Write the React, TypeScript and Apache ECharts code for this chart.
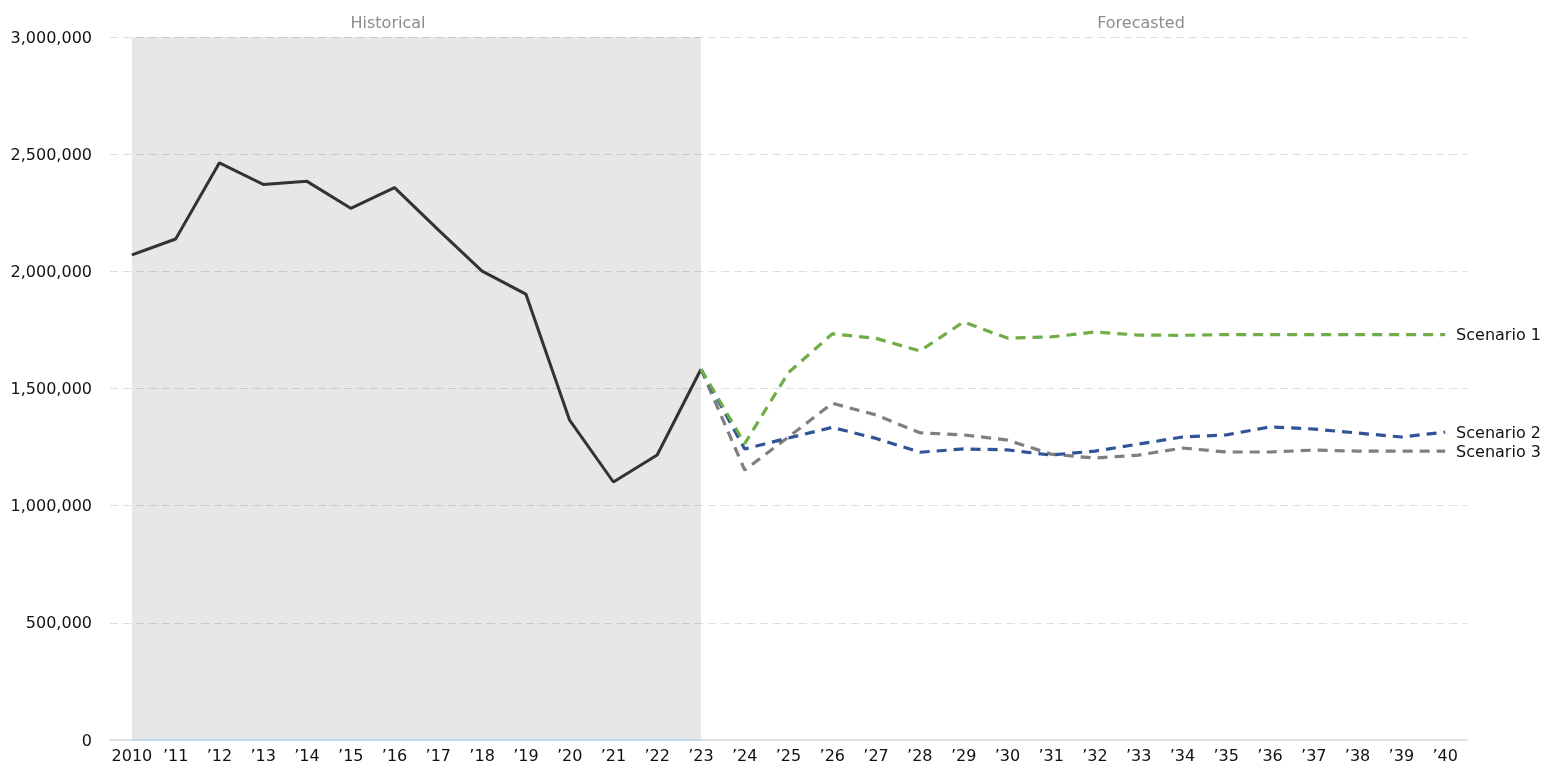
import React, { useEffect, useRef } from "react";
import * as echarts from "echarts";

const years = Array.from({ length: 31 }, (_, i) => String(2010 + i));

const historical = [
  2070000, 2138000, 2463000, 2371000, 2384000, 2269000, 2357000, 2177000, 2001000,
  1903000, 1365000, 1101000, 1216000, 1582000,
];
const scenario1 = [
  1582000, 1265000, 1568000, 1733000, 1714000, 1660000, 1784000, 1715000, 1720000,
  1741000, 1728000, 1727000, 1730000, 1730000, 1730000, 1730000, 1730000, 1730000,
];
const scenario2 = [
  1582000, 1242000, 1289000, 1334000, 1287000, 1228000, 1242000, 1238000, 1216000,
  1233000, 1263000, 1293000, 1302000, 1336000, 1327000, 1310000, 1293000, 1314000,
];
const scenario3 = [
  1582000, 1152000, 1293000, 1437000, 1387000, 1311000, 1302000, 1280000, 1220000,
  1203000, 1216000, 1246000, 1229000, 1229000, 1237000, 1233000, 1233000, 1233000,
];

const FONT = "DejaVu Sans";

function pad(front: number, arr: number[]) {
  return [...Array(front).fill(null), ...arr];
}

export default function App() {
  const ref = useRef<HTMLDivElement>(null);
  useEffect(() => {
    if (!ref.current) return;
    const chart = echarts.init(ref.current, null, { renderer: "svg" });
    const scen = (name: string, data: number[], color: string) => ({
      type: "line",
      name,
      data: pad(13, data),
      z: 3,
      symbol: "none",
      lineStyle: { color, width: 3.2, type: [10, 7] },
      endLabel: {
        show: true,
        formatter: name,
        distance: 11,
        color: "#111",
        fontFamily: FONT,
        fontSize: 16,
      },
    });
    chart.setOption({
      animation: false,
      textStyle: { fontFamily: FONT },
      grid: { left: 110, top: 37, right: 81, bottom: 32, containLabel: false },
      xAxis: {
        type: "category",
        data: years,
        boundaryGap: true,
        axisLine: { lineStyle: { color: "#e2e2e2", width: 2 } },
        axisTick: { alignWithLabel: true, length: 5, lineStyle: { color: "#d4d4d4" } },
        axisLabel: {
          interval: 0,
          color: "#111",
          fontSize: 16,
          fontFamily: FONT,
          margin: 7,
          formatter: (v: string) => (v === "2010" ? v : "\u2019" + v.slice(2)),
        },
      },
      yAxis: {
        type: "value",
        min: 0,
        max: 3000000,
        interval: 500000,
        axisLine: { show: false },
        axisTick: { show: false },
        axisLabel: {
          color: "#111",
          fontSize: 16,
          fontFamily: FONT,
          margin: 18,
          formatter: (v: number) => v.toLocaleString("en-US"),
        },
        splitLine: { lineStyle: { color: "#dedede", width: 1.2, type: [8, 5] } },
      },
      graphic: [
        {
          type: "text",
          x: 388,
          y: 22,
          style: {
            text: "Historical",
            fill: "#8c8c8c",
            fontSize: 16,
            fontFamily: FONT,
            align: "center",
            verticalAlign: "middle",
          },
        },
        {
          type: "text",
          x: 1141,
          y: 22,
          style: {
            text: "Forecasted",
            fill: "#8c8c8c",
            fontSize: 16,
            fontFamily: FONT,
            align: "center",
            verticalAlign: "middle",
          },
        },
      ],
      series: [
        {
          type: "line",
          name: "Historical",
          data: historical,
          z: 3,
          symbol: "none",
          lineStyle: { color: "#333333", width: 3 },
          markArea: {
            silent: true,
            itemStyle: { color: "rgba(0,0,0,0.094)" },
            data: [[{ xAxis: "2010" }, { xAxis: "2023" }]],
          },
          markLine: {
            silent: true,
            symbol: "none",
            label: { show: false },
            lineStyle: { color: "#bdd7ee", width: 2, type: "solid" },
            data: [[{ coord: ["2010", 0] }, { coord: ["2023", 0] }]],
          },
        },
        scen("Scenario 3", scenario3, "#7f7f7f"),
        scen("Scenario 2", scenario2, "#2f5597"),
        scen("Scenario 1", scenario1, "#70ad47"),
      ],
    });
    return () => chart.dispose();
  }, []);
  return (
    <div
      ref={ref}
      style={{ position: "fixed", left: 0, top: 0, width: 1548, height: 772 }}
    />
  );
}
